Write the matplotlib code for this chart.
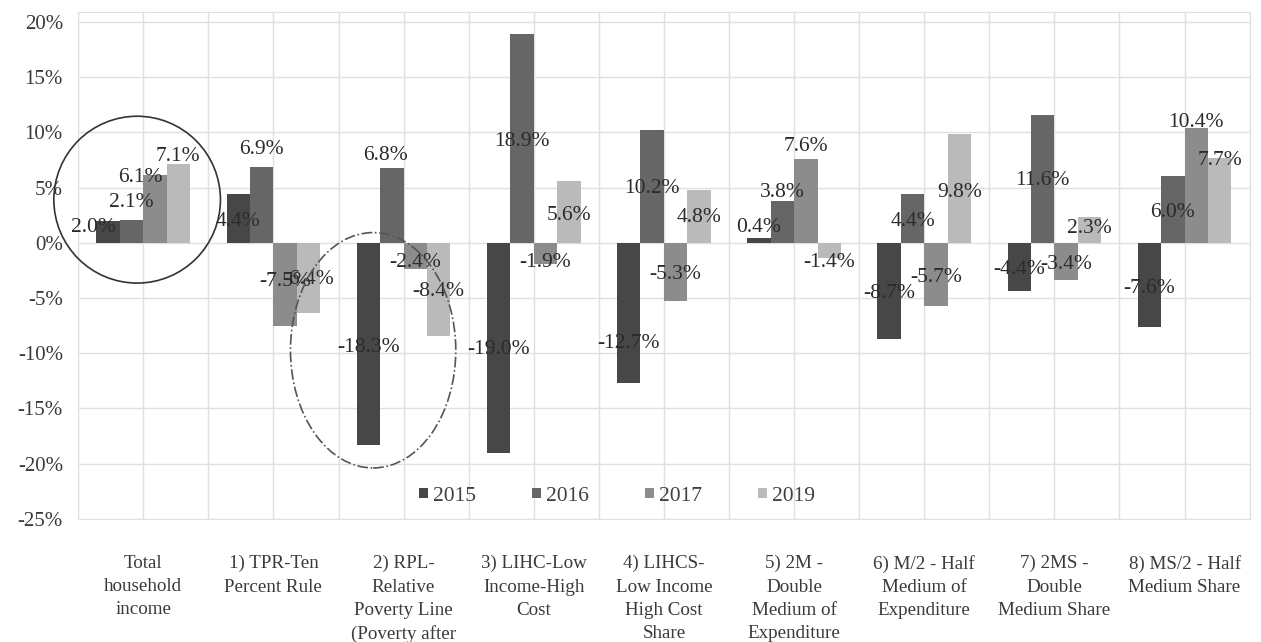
import numpy as np
import matplotlib.pyplot as plt
from matplotlib.patches import Ellipse

plt.rcParams['font.family'] = ['Liberation Serif', 'DejaVu Serif']

# categories and values (percent change)
categories = [
    'Total\nhousehold\nincome',
    '1) TPR-Ten\nPercent Rule',
    '2) RPL-\nRelative\nPoverty Line\n(Poverty after',
    '3) LIHC-Low\nIncome-High\nCost',
    '4) LIHCS-\nLow Income\nHigh Cost\nShare',
    '5) 2M -\nDouble\nMedium of\nExpenditure',
    '6) M/2 - Half\nMedium of\nExpenditure',
    '7) 2MS -\nDouble\nMedium Share',
    '8) MS/2 - Half\nMedium Share',
]
years = ['2015', '2016', '2017', '2019']
v2015 = [2.0, 4.4, -18.3, -19.0, -12.7, 0.4, -8.7, -4.4, -7.6]
v2016 = [2.1, 6.9, 6.8, 18.9, 10.2, 3.8, 4.4, 11.6, 6.0]
v2017 = [6.1, -7.5, -2.4, -1.9, -5.3, 7.6, -5.7, -3.4, 10.4]
v2019 = [7.1, -6.4, -8.4, 5.6, 4.8, -1.4, 9.8, 2.3, 7.7]
series = [v2015, v2016, v2017, v2019]

# where Excel put each data label (y, in percent units), per series
label_y = [
    [1.4, 1.9, -9.45, -9.7, -9.1, 1.4, -4.55, -2.45, -4.1],
    [3.65, 8.45, 7.9, 9.2, 4.9, 4.55, 1.9, 5.6, 2.7],
    [5.9, -3.55, -1.8, -1.8, -2.9, 8.7, -3.1, -2.0, 10.9],
    [7.8, -3.35, -4.45, 2.45, 2.25, -1.8, 4.55, 1.25, 7.45],
]
label_dx = [
    [-0.11, 0, 0, 0, 0, 0, 0, 0, 0],
    [0, 0, -0.05, 0, 0, 0, 0, 0, 0],
    [-0.11, 0, 0, 0, 0, 0, 0, 0, 0],
    [0, 0, 0, 0, 0, 0, 0, 0, 0],
]
colors = ['#474747', '#666666', '#8c8c8c', '#bababa']

fig = plt.figure(figsize=(12.61, 6.42), dpi=100)
ax = fig.add_axes([0.062, 0.1916, 0.929, 0.79])

x = np.arange(len(categories))
w = 0.18
for i, (vals, yr, c) in enumerate(zip(series, years, colors)):
    pos = x + (i - 1.5) * w
    ax.bar(pos, vals, w, color=c, label=yr, zorder=2)
    for j, v in enumerate(vals):
        ax.text(pos[j] + label_dx[i][j], label_y[i][j], f'{v:.1f}%', ha='center', va='center',
                fontsize=15.5, color='#2b2b2b', zorder=3)

ax.set_xlim(-0.5, len(categories) - 0.5)
ax.set_ylim(-25, 20.9)
ax.set_yticks(np.arange(-25, 21, 5))
ax.set_yticklabels([f'{t}%' for t in range(-25, 21, 5)], fontsize=15)
ax.set_xticks(x)
ax.set_xticklabels(categories, linespacing=1.47, fontsize=13.7)
ax.set_xticks(np.arange(-0.5, len(categories), 1.0), minor=True)
ax.tick_params(axis='both', which='both', length=0, labelcolor='#3a3a3a')
ax.tick_params(axis='y', pad=11)
ax.tick_params(axis='x', pad=26)
for lab in ax.get_xticklabels():
    lab.set_verticalalignment('top')
ax.grid(True, axis='y', color='#e0e0e0', lw=1, zorder=0)
ax.grid(True, axis='x', which='both', color='#e0e0e0', lw=1, zorder=0)
for s in ax.spines.values():
    s.set_color('#e0e0e0')

# annotation ellipses
ax.add_patch(Ellipse((-0.047, 3.9), 1.28, 15.1, fill=False, ec='#333333', lw=1.2,
                     zorder=4, clip_on=False))
ax.add_patch(Ellipse((1.766, -9.73), 1.27, 21.3, fill=False, ec='#555555', lw=1.2,
                     ls='-.', zorder=4, clip_on=False))

ax.legend(loc='center', bbox_to_anchor=(0.46, 0.045), ncol=4, frameon=False,
          fontsize=15.5, handlelength=0.4, handleheight=0.4, handletextpad=0.25,
          columnspacing=2.6, labelcolor='#404040')

fig.savefig('out.png', dpi=100)
